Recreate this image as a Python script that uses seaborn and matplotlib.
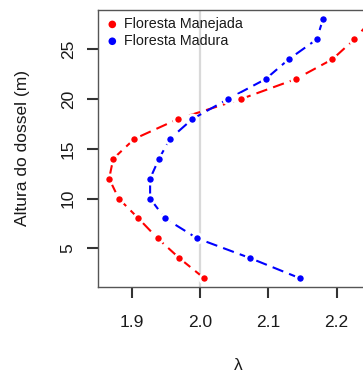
import numpy as np
import pandas as pd
import matplotlib
matplotlib.use("Agg")
import matplotlib.pyplot as plt
import seaborn as sns

# canopy height (m) and lambda per forest type
altura = [2, 4, 6, 8, 10, 12, 14, 16, 18, 20, 22, 24, 26, 28]
lambda_manejada = [2.006, 1.970, 1.938, 1.910, 1.881, 1.867, 1.873, 1.904,
                   1.968, 2.060, 2.140, 2.194, 2.226, 2.252]
lambda_madura = [2.146, 2.074, 1.996, 1.949, 1.927, 1.927, 1.940, 1.956,
                 1.989, 2.041, 2.096, 2.130, 2.171, 2.180]
series_names = ["Floresta Manejada", "Floresta Madura"]
series_colors = ["#FF0000", "#0000FF"]
x_ticks = [1.9, 2.0, 2.1, 2.2]
y_ticks = [5, 10, 15, 20, 25]

df = pd.concat([
    pd.DataFrame({"altura": altura, "lam": lambda_manejada, "grupo": series_names[0]}),
    pd.DataFrame({"altura": altura, "lam": lambda_madura, "grupo": series_names[1]}),
])

sns.set_style("ticks")
plt.rcParams["font.family"] = ["Liberation Sans", "DejaVu Sans"]

fig = plt.figure(figsize=(3.63, 3.72), dpi=100)
ax = fig.add_axes([98 / 363, 85 / 372, 280 / 363, 277 / 372])

ax.axvline(2.0, color="#d9d9d9", lw=1.6, zorder=0)

for name, col in zip(series_names, series_colors):
    sub = df[df["grupo"] == name]
    sns.lineplot(data=sub, x="lam", y="altura", sort=False, estimator=None,
                 color=col, lw=1.5, dashes=False, ax=ax, zorder=2)
    ax.lines[-1].set_dashes((5.5, 3))
    # white rim mimics the gap around points of an R type="b" plot
    sns.scatterplot(data=sub, x="lam", y="altura", color=col, s=44,
                    edgecolor="white", linewidth=2.0, ax=ax, zorder=3,
                    label=name)

ax.set_xlim(1.8507, 2.2607)
ax.set_ylim(1.11, 28.95)
ax.set_xticks(x_ticks)
ax.set_yticks(y_ticks)
ax.tick_params(axis="both", direction="out", length=8, width=1.5, color="#333333",
               labelsize=12.5, labelcolor="#1a1a1a", bottom=True, left=True)
ax.tick_params(axis="x", pad=12)
ax.tick_params(axis="y", pad=8, labelrotation=90)
for lbl in ax.get_yticklabels():
    lbl.set_va("center")
for sp in ax.spines.values():
    sp.set_visible(True)
    sp.set_color("#555555")
    sp.set_linewidth(1)

ax.set_xlabel("λ", fontsize=12.5, labelpad=20, color="#1a1a1a")
ax.set_ylabel("Altura do dossel (m)", fontsize=12.5, labelpad=22, color="#1a1a1a")

leg = ax.legend(loc="upper left", frameon=False, fontsize=10.3, handletextpad=0.3,
                borderaxespad=0.3, borderpad=0.2, labelspacing=0.2,
                handlelength=1.0)
for h in leg.legend_handles:
    h.set_edgecolor("none")
    h.set_sizes([30])
for t in leg.get_texts():
    t.set_color("#1a1a1a")

fig.savefig("out.png", dpi=100)

# check that the x tick below 1.9 really got drawn
fig.canvas.draw()
buf = np.asarray(fig.canvas.buffer_rgba())
patch = buf[289:297, 127:137, :3]
if patch.min() > 200:
    tk = ax.xaxis.get_major_ticks()[0]
    ln = tk.tick1line
    raise RuntimeError(
        f"tick missing: vis={ln.get_visible()} marker={ln.get_marker()} "
        f"ms={ln.get_markersize()} mew={ln.get_markeredgewidth()} "
        f"mec={ln.get_markeredgecolor()} alpha={ln.get_alpha()} "
        f"clip={ln.get_clip_on()} xy={ln.get_xydata()} "
        f"tickvis={tk.get_visible()} loc={tk.get_loc()} "
        f"disp={ax.transData.transform([[1.9, 1.11]])} "
        f"col131={buf[280:300, 131, 0].tolist()}")
